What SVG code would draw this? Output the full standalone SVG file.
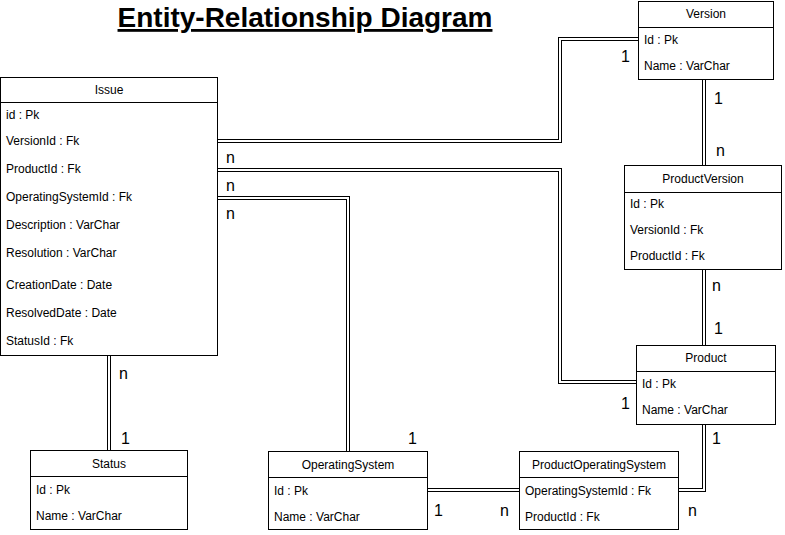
<svg xmlns="http://www.w3.org/2000/svg" width="785" height="535" viewBox="0 0 785 535">
<style>
.box{fill:#fff;stroke:#000;stroke-width:1}
.sep{stroke:#000;stroke-width:1}
.hd{font-family:"Liberation Sans",Arial,sans-serif;font-size:12px;fill:#000;text-anchor:middle}
.row{font-family:"Liberation Sans",Arial,sans-serif;font-size:12px;fill:#000}
.lbl{font-family:"Liberation Sans",Arial,sans-serif;font-size:16px;fill:#000}
.out{fill:none;stroke:#000;stroke-width:4}
.in{fill:none;stroke:#fff;stroke-width:2}
.title{font-family:"Liberation Sans",Arial,sans-serif;font-size:28px;font-weight:bold;fill:#000;text-anchor:middle;text-decoration:underline}
</style>
<rect width="785" height="535" fill="#fff"/>
<text class="title" x="305" y="27">Entity-Relationship Diagram</text>
<g id="connectors">
<g id="issue-version"><path class="out" d="M218,141H560V39H638"/><path class="in" d="M218,141H560V39H638"/></g>
<g id="issue-product"><path class="out" d="M218,170H560V382H636"/><path class="in" d="M218,170H560V382H636"/></g>
<g id="issue-os"><path class="out" d="M218,198H348V451"/><path class="in" d="M218,198H348V451"/></g>
<g id="issue-status"><path class="out" d="M109,356V450"/><path class="in" d="M109,356V450"/></g>
<g id="version-pv"><path class="out" d="M704,80V165"/><path class="in" d="M704,80V165"/></g>
<g id="pv-product"><path class="out" d="M704,270V345"/><path class="in" d="M704,270V345"/></g>
<g id="product-pos"><path class="out" d="M704,425V490H679"/><path class="in" d="M704,425V490H679"/></g>
<g id="os-pos"><path class="out" d="M428,490H519"/><path class="in" d="M428,490H519"/></g>
</g>
<g id="labels">
<text class="lbl" x="621" y="62">1</text>
<text class="lbl" x="226" y="163">n</text>
<text class="lbl" x="226" y="191">n</text>
<text class="lbl" x="226" y="219">n</text>
<text class="lbl" x="714" y="104">1</text>
<text class="lbl" x="716" y="156">n</text>
<text class="lbl" x="712" y="291">n</text>
<text class="lbl" x="714" y="334">1</text>
<text class="lbl" x="621" y="409">1</text>
<text class="lbl" x="712" y="444">1</text>
<text class="lbl" x="119" y="379">n</text>
<text class="lbl" x="121" y="444">1</text>
<text class="lbl" x="408" y="444">1</text>
<text class="lbl" x="434" y="516">1</text>
<text class="lbl" x="500" y="516">n</text>
<text class="lbl" x="688" y="516">n</text>
</g>
<g id="Issue">
<rect class="box" x="0.5" y="77.5" width="217" height="278"/>
<line class="sep" x1="0.5" y1="102.5" x2="217.5" y2="102.5"/>
<text class="hd" x="109" y="94">Issue</text>
<text class="row" x="6" y="119">id : Pk</text>
<text class="row" x="6" y="145">VersionId : Fk</text>
<text class="row" x="6" y="173">ProductId : Fk</text>
<text class="row" x="6" y="201">OperatingSystemId : Fk</text>
<text class="row" x="6" y="229">Description : VarChar</text>
<text class="row" x="6" y="257">Resolution : VarChar</text>
<text class="row" x="6" y="289">CreationDate : Date</text>
<text class="row" x="6" y="317">ResolvedDate : Date</text>
<text class="row" x="6" y="345">StatusId : Fk</text>
</g>
<g id="Version">
<rect class="box" x="638.5" y="1.5" width="135" height="78"/>
<line class="sep" x1="638.5" y1="27.5" x2="773.5" y2="27.5"/>
<text class="hd" x="706" y="18">Version</text>
<text class="row" x="644" y="44">Id : Pk</text>
<text class="row" x="644" y="70">Name : VarChar</text>
</g>
<g id="ProductVersion">
<rect class="box" x="624.5" y="165.5" width="157" height="104"/>
<line class="sep" x1="624.5" y1="192.5" x2="781.5" y2="192.5"/>
<text class="hd" x="703" y="183">ProductVersion</text>
<text class="row" x="630" y="208">Id : Pk</text>
<text class="row" x="630" y="234">VersionId : Fk</text>
<text class="row" x="630" y="260">ProductId : Fk</text>
</g>
<g id="Product">
<rect class="box" x="636.5" y="345.5" width="139" height="79"/>
<line class="sep" x1="636.5" y1="371.5" x2="775.5" y2="371.5"/>
<text class="hd" x="706" y="362">Product</text>
<text class="row" x="642" y="388">Id : Pk</text>
<text class="row" x="642" y="414">Name : VarChar</text>
</g>
<g id="Status">
<rect class="box" x="30.5" y="450.5" width="157" height="79"/>
<line class="sep" x1="30.5" y1="476.5" x2="187.5" y2="476.5"/>
<text class="hd" x="109" y="468">Status</text>
<text class="row" x="36" y="494">Id : Pk</text>
<text class="row" x="36" y="520">Name : VarChar</text>
</g>
<g id="OperatingSystem">
<rect class="box" x="268.5" y="451.5" width="159" height="78"/>
<line class="sep" x1="268.5" y1="477.5" x2="427.5" y2="477.5"/>
<text class="hd" x="348" y="469">OperatingSystem</text>
<text class="row" x="274" y="495">Id : Pk</text>
<text class="row" x="274" y="521">Name : VarChar</text>
</g>
<g id="ProductOperatingSystem">
<rect class="box" x="519.5" y="451.5" width="159" height="78"/>
<line class="sep" x1="519.5" y1="477.5" x2="678.5" y2="477.5"/>
<text class="hd" x="599" y="469">ProductOperatingSystem</text>
<text class="row" x="525" y="495">OperatingSystemId : Fk</text>
<text class="row" x="525" y="521">ProductId : Fk</text>
</g>
</svg>
